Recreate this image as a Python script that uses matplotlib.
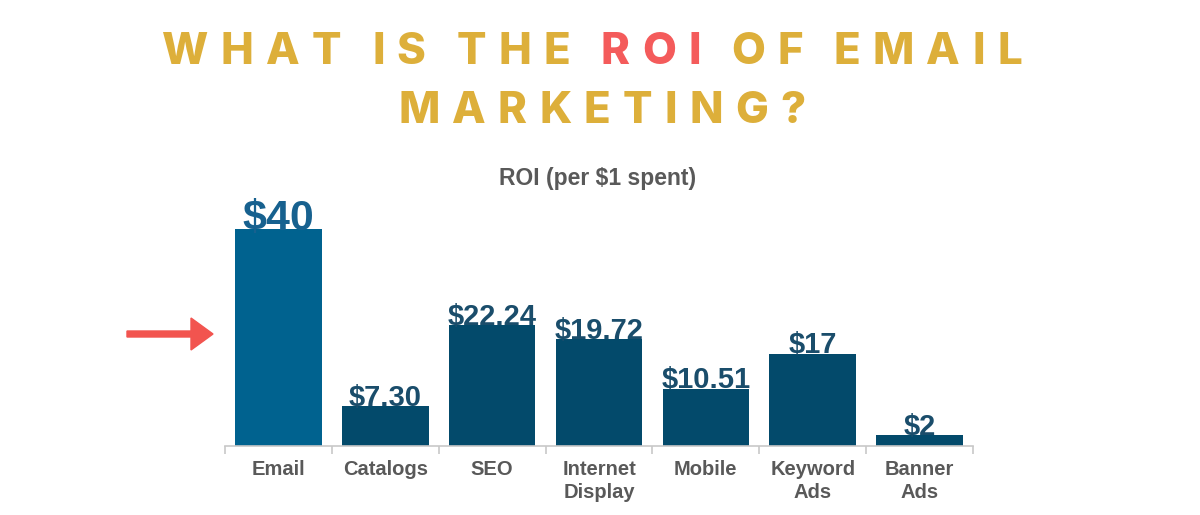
import matplotlib.pyplot as plt
from matplotlib.patches import FancyArrow
import numpy as np

categories = ['Email', 'Catalogs', 'SEO', 'Internet\nDisplay', 'Mobile', 'Keyword\nAds', 'Banner\nAds']
roi = [40, 7.30, 22.24, 19.72, 10.51, 17, 2]
value_labels = ['$40', '$7.30', '$22.24', '$19.72', '$10.51', '$17', '$2']

title_line1 = [('WHAT IS THE ', '#DDAF3A'), ('ROI', '#F45B5B'), (' OF EMAIL', '#DDAF3A')]
title_line2 = [('MARKETING?', '#DDAF3A')]
subtitle = 'ROI (per $1 spent)'

W, H = 1200, 515
fig = plt.figure(figsize=(12, 5.15), dpi=100)
fig.patch.set_facecolor('white')

# main axes, placed in pixel terms of the reference
ax = fig.add_axes([225 / W, 1 - 446 / H, (973 - 225) / W, 244 / H])
x = np.arange(len(categories))
colors = ['#00628F'] + ['#034A6B'] * (len(categories) - 1)
ax.bar(x, roi, width=0.81, color=colors, zorder=2)
ax.set_xlim(-0.5, len(categories) - 0.5)
ax.set_ylim(0, 45)

for i, (v, lab) in enumerate(zip(roi, value_labels)):
    if i == 0:
        ax.text(i, v - 0.1, lab, ha='center', va='baseline', fontsize=31, fontweight='bold',
                family='Liberation Sans', color='#17618F', zorder=3)
    else:
        ax.text(i, v + 0.1, lab, ha='center', va='baseline', fontsize=21, fontweight='bold',
                family='Liberation Sans', color='#1A4D6B', zorder=3)

for s in ['top', 'right', 'left']:
    ax.spines[s].set_visible(False)
ax.spines['bottom'].set_color('#C8C8C8')
ax.spines['bottom'].set_linewidth(1.2)
ax.set_yticks([])
ax.set_xticks(x)
ax.set_xticklabels(categories, fontsize=14.5, fontweight='bold', color='#595959',
                   family='Liberation Sans', linespacing=1.3)
ax.tick_params(axis='x', which='major', length=0, pad=10)
ax.set_xticks(np.arange(-0.5, len(categories)), minor=True)
ax.tick_params(axis='x', which='minor', length=6, color='#C8C8C8', width=1.2)

fig.text(598 / W, 1 - 178 / H, subtitle, ha='center', va='center', fontsize=16.5,
         fontweight='bold', color='#595959', family='Liberation Sans')

# red arrow pointing at the Email bar
arrow = FancyArrow(1.27, (H - 334) / 100, 0.64, 0, width=0.06, head_width=0.32,
                   head_length=0.22, length_includes_head=False, color='#F2544F',
                   transform=fig.dpi_scale_trans)
fig.patches.append(arrow)

# title with wide letter spacing, drawn char by char
renderer = fig.canvas.get_renderer()
tsize = 31.5
tfont = dict(fontsize=tsize, fontweight='heavy', fontstyle='normal', family='Inter')


def char_widths(segments):
    out = []
    for text, col in segments:
        for ch in text:
            if ch == ' ':
                out.append((ch, col, 6))
                continue
            t = fig.text(0, 0, ch, **tfont)
            w = t.get_window_extent(renderer).width
            t.remove()
            out.append((ch, col, w))
    return out


def draw_line(chars, center, y, track):
    total = sum(w for _, _, w in chars) + track * (len(chars) - 1)
    px = center - total / 2
    for ch, col, w in chars:
        if ch != ' ':
            fig.text(px / W, 1 - y / H, ch, ha='left', va='baseline', color=col, **tfont)
        px += w + track


line1 = char_widths(title_line1)
track = (1022 - 162 - sum(w for _, _, w in line1)) / (len(line1) - 1)
draw_line(line1, 592, 64, track)
line2 = char_widths(title_line2)
draw_line(line2, 602, 123, track)

fig.savefig('out.png', dpi=100, facecolor='white')
